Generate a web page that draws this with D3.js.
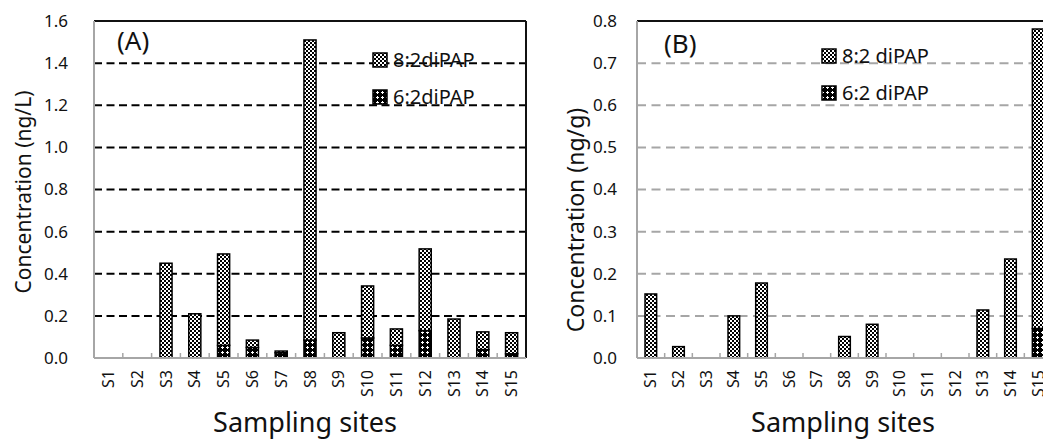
<!DOCTYPE html>
<html>
<head>
<meta charset="utf-8">
<script src="https://cdn.jsdelivr.net/npm/d3@7"></script>
<style>
  body { margin: 0; background: #fff; }
  svg { display: block; font-family: "Noto Sans", "Open Sans", sans-serif; }
</style>
</head>
<body>
<div id="chart"></div>
<script>
// sampling sites
const sites = ["S1","S2","S3","S4","S5","S6","S7","S8","S9","S10","S11","S12","S13","S14","S15"];

// (A) water, ng/L  (6:2 at the bottom of each stack, 8:2 on top)
const waterDiPAP62 = [0, 0, 0, 0, 0.06, 0.05, 0.025, 0.085, 0, 0.095, 0.06, 0.13, 0, 0.04, 0.02];
const waterDiPAP82 = [0, 0, 0.45, 0.21, 0.434, 0.035, 0.008, 1.425, 0.12, 0.247, 0.078, 0.388, 0.185, 0.084, 0.1];

// (B) sediment, ng/g
const sedDiPAP62 = [0, 0, 0, 0, 0, 0, 0, 0, 0, 0, 0, 0, 0, 0, 0.07];
const sedDiPAP82 = [0.152, 0.027, 0, 0.1, 0.178, 0, 0, 0.051, 0.08, 0, 0, 0, 0.114, 0.235, 0.711];

const ticksA = [0, 0.2, 0.4, 0.6, 0.8, 1.0, 1.2, 1.4, 1.6];
const ticksB = [0, 0.1, 0.2, 0.3, 0.4, 0.5, 0.6, 0.7, 0.8];

const width = 1043, height = 441;

const svg = d3.select("#chart").append("svg")
    .attr("width", width)
    .attr("height", height);

// fill patterns for the two series
const defs = svg.append("defs");
const p82 = defs.append("pattern")
    .attr("id", "p82")
    .attr("patternUnits", "userSpaceOnUse")
    .attr("width", 4).attr("height", 4);
p82.append("rect").attr("width", 4).attr("height", 4).attr("fill", "#fff");
p82.append("rect").attr("x", 0).attr("y", 0).attr("width", 2).attr("height", 2).attr("fill", "#000");
p82.append("rect").attr("x", 2).attr("y", 2).attr("width", 2).attr("height", 2).attr("fill", "#000");

const p62 = defs.append("pattern")
    .attr("id", "p62")
    .attr("patternUnits", "userSpaceOnUse")
    .attr("width", 5).attr("height", 5);
p62.append("rect").attr("width", 5).attr("height", 5).attr("fill", "#000");
p62.append("rect").attr("x", 2).attr("y", 1).attr("width", 1).attr("height", 3).attr("fill", "#fff");
p62.append("rect").attr("x", 1).attr("y", 2).attr("width", 3).attr("height", 1).attr("fill", "#fff");

function drawPanel(cfg) {
    const g = svg.append("g");
    const top = 21, bottom = 358;

    const x = d3.scaleBand()
        .domain(sites)
        .range([cfg.left, cfg.right])
        .paddingInner(0.58)
        .paddingOuter(0.29);

    const y = d3.scaleLinear()
        .domain([0, cfg.max])
        .range([bottom, top]);

    // dashed gridlines
    g.append("g").selectAll("line")
        .data(cfg.ticks.filter(t => t > 0 && t < cfg.max))
        .enter().append("line")
        .attr("x1", cfg.left).attr("x2", cfg.right)
        .attr("y1", d => y(d)).attr("y2", d => y(d))
        .attr("stroke", cfg.gridColor)
        .attr("stroke-width", 2)
        .attr("stroke-dasharray", cfg.dash);

    // stacked bars
    const rows = sites.map((s, i) => ({ site: s, a: cfg.s62[i], b: cfg.s82[i] }));
    const stack = d3.stack().keys(["a", "b"])(rows);
    const fills = { a: "url(#p62)", b: "url(#p82)" };

    stack.forEach(layer => {
        g.append("g").selectAll("rect")
            .data(layer.filter(d => d[1] - d[0] > 0))
            .enter().append("rect")
            .attr("x", d => x(d.data.site))
            .attr("width", x.bandwidth())
            .attr("y", d => y(d[1]))
            .attr("height", d => y(d[0]) - y(d[1]))
            .attr("fill", fills[layer.key])
            .attr("stroke", "#000")
            .attr("stroke-width", 1.5);
    });

    // plot frame: black top (and right for A), grey axes
    g.append("line")
        .attr("x1", cfg.left).attr("x2", cfg.right)
        .attr("y1", top).attr("y2", top)
        .attr("stroke", "#111").attr("stroke-width", 2);
    if (cfg.rightBorder) {
        g.append("line")
            .attr("x1", cfg.right).attr("x2", cfg.right)
            .attr("y1", top).attr("y2", bottom)
            .attr("stroke", "#111").attr("stroke-width", 2);
    }
    g.append("line")
        .attr("x1", cfg.left).attr("x2", cfg.left)
        .attr("y1", top).attr("y2", bottom)
        .attr("stroke", "#a6a6a6").attr("stroke-width", 2);
    g.append("line")
        .attr("x1", cfg.left).attr("x2", cfg.right)
        .attr("y1", bottom).attr("y2", bottom)
        .attr("stroke", "#a6a6a6").attr("stroke-width", 2);

    // small tick marks between categories
    g.append("g").selectAll("line")
        .data(d3.range(1, sites.length))
        .enter().append("line")
        .attr("x1", i => x.range()[0] + i * x.step())
        .attr("x2", i => x.range()[0] + i * x.step())
        .attr("y1", bottom - 5).attr("y2", bottom)
        .attr("stroke", "#a6a6a6").attr("stroke-width", 1.5);

    // y axis labels
    const yAxis = g.append("g")
        .attr("transform", `translate(${cfg.left},0)`)
        .call(d3.axisLeft(y).tickValues(cfg.ticks).tickFormat(d3.format(".1f")).tickSize(0).tickPadding(cfg.yPad));
    yAxis.select(".domain").remove();
    yAxis.selectAll("text")
        .attr("font-size", 17)
        .attr("font-family", "Noto Sans")
        .attr("fill", "#111");

    // x axis labels, rotated
    const xAxis = g.append("g")
        .attr("transform", `translate(0,${bottom})`)
        .call(d3.axisBottom(x).tickSize(0));
    xAxis.select(".domain").remove();
    xAxis.selectAll("text")
        .attr("transform", "rotate(-90)")
        .attr("x", -12)
        .attr("y", 0)
        .attr("dy", "0.35em")
        .style("text-anchor", "end")
        .attr("font-size", 16)
        .attr("font-family", "Noto Sans")
        .attr("fill", "#111");

    // panel letter
    g.append("text")
        .attr("x", cfg.letterX).attr("y", cfg.letterY)
        .attr("font-size", 26)
        .attr("fill", "#111")
        .text(cfg.letter);

    // legend
    const leg = g.append("g");
    cfg.legend.forEach((item, i) => {
        const ly = cfg.legY + i * 37;
        leg.append("rect")
            .attr("x", cfg.legX).attr("y", ly - 7)
            .attr("width", 14).attr("height", 14)
            .attr("fill", item.fill)
            .attr("stroke", "#000").attr("stroke-width", 1.5);
        leg.append("text")
            .attr("x", cfg.legX + 20).attr("y", ly)
            .attr("dy", "0.35em")
            .attr("font-size", 20)
            .attr("fill", "#111")
            .text(item.label);
    });

    // axis titles
    g.append("text")
        .attr("transform", `translate(${cfg.yTitleX},${cfg.yTitleY}) rotate(-90)`)
        .attr("text-anchor", "middle")
        .attr("font-size", cfg.yTitleSize)
        .attr("fill", "#111")
        .text(cfg.yTitle);

    g.append("text")
        .attr("x", cfg.xTitleX).attr("y", 432)
        .attr("text-anchor", "middle")
        .attr("font-size", 27)
        .attr("fill", "#111")
        .text("Sampling sites");
}

drawPanel({
    left: 94, right: 526, max: 1.6, ticks: ticksA,
    s62: waterDiPAP62, s82: waterDiPAP82,
    gridColor: "#000", dash: "8,4.5", rightBorder: true,
    yPad: 26, letter: "(A)", letterX: 117, letterY: 50,
    legX: 373, legY: 60,
    legend: [{ label: "8:2diPAP", fill: "url(#p82)" }, { label: "6:2diPAP", fill: "url(#p62)" }],
    yTitle: "Concentration (ng/L)", yTitleX: 31, yTitleY: 192, yTitleSize: 21,
    xTitleX: 305
});

drawPanel({
    left: 637, right: 1052, max: 0.8, ticks: ticksB,
    s62: sedDiPAP62, s82: sedDiPAP82,
    gridColor: "#a6a6a6", dash: "9,5.5", rightBorder: false,
    yPad: 20, letter: "(B)", letterX: 664, letterY: 53,
    legX: 822, legY: 56,
    legend: [{ label: "8:2 diPAP", fill: "url(#p82)" }, { label: "6:2 diPAP", fill: "url(#p62)" }],
    yTitle: "Concentration (ng/g)", yTitleX: 584, yTitleY: 220, yTitleSize: 23,
    xTitleX: 843
});
</script>
</body>
</html>
